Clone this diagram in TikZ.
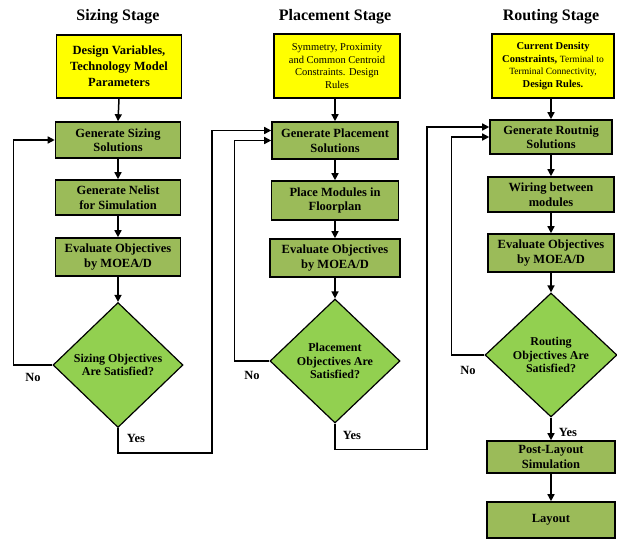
\documentclass[tikz,border=0pt]{standalone}
\usepackage{fontspec}
\setmainfont{Liberation Serif}
\usetikzlibrary{shapes.geometric, arrows.meta}

\definecolor{inyellow}{HTML}{FFFF00}
\definecolor{procgreen}{HTML}{9BBB59}
\definecolor{decgreen}{HTML}{92D050}

\tikzset{
  stagetitle/.style={font=\fontsize{16}{18}\selectfont\bfseries},
  inbox/.style={draw, line width=1.6pt, fill=inyellow, align=center, inner sep=2pt},
  procbox/.style={draw, line width=1.6pt, fill=procgreen, align=center, inner sep=2pt,
    font=\fontsize{12.5}{14.5}\selectfont\bfseries},
  decision/.style={draw, diamond, aspect=1, line width=1.2pt, fill=decgreen, align=center,
    inner sep=0pt, font=\fontsize{12}{13.5}\selectfont\bfseries},
  flow/.style={line width=1.5pt, -{Triangle[length=7pt,width=7pt]}},
  answer/.style={font=\fontsize{12.5}{14}\selectfont\bfseries},
}

\begin{document}
\begin{tikzpicture}[x=1pt, y=-1pt]
\useasboundingbox (0,0) rectangle (617,540);

\node [stagetitle] (t1) at (118,17) {Sizing Stage};
\node [stagetitle] (t2) at (335,17) {Placement Stage};
\node [stagetitle] (t3) at (551,17) {Routing Stage};

% sizing
\node [inbox, minimum width=125pt, minimum height=63pt, font=\fontsize{12.5}{16}\selectfont\bfseries]
  (in1) at (119,66.5) {Design Variables,\\Technology Model\\Parameters};
\node [procbox, minimum width=125pt, minimum height=36pt] (gen1) at (118,140) {Generate Sizing\\Solutions};
\node [procbox, minimum width=125pt, minimum height=35pt] (net1) at (118,197.5) {Generate Nelist\\for Simulation};
\node [procbox, minimum width=125pt, minimum height=38pt] (eval1) at (118,257) {Evaluate Objectives\\by MOEA/D};
\node [decision, minimum width=130pt, minimum height=125pt] (dec1) at (118,365) {Sizing Objectives\\Are Satisfied?};

% placement
\node [inbox, minimum width=126pt, minimum height=64pt, font=\fontsize{10.5}{12.5}\selectfont]
  (in2) at (337,66) {Symmetry, Proximity\\and Common Centroid\\Constraints. Design\\Rules};
\node [procbox, minimum width=126pt, minimum height=37pt] (gen2) at (335,140.5) {Generate Placement\\Solutions};
\node [procbox, minimum width=127pt, minimum height=39pt] (place2) at (335,200.5) {Place Modules in\\Floorplan};
\node [procbox, minimum width=130pt, minimum height=38pt] (eval2) at (335,258) {Evaluate Objectives\\by MOEA/D};
\node [decision, minimum width=130pt, minimum height=124pt] (dec2) at (335,361) {Placement\\Objectives Are\\Satisfied?};

% routing
\node [inbox, minimum width=122pt, minimum height=64pt, font=\fontsize{10.5}{12.5}\selectfont\bfseries]
  (in3) at (553,66) {Current Density\\Constraints, {\fontsize{9.5}{12.5}\selectfont\mdseries Terminal to}\\
  {\fontsize{9.5}{12.5}\selectfont\mdseries Terminal Connectivity,}\\Design Rules.};
\node [procbox, minimum width=122pt, minimum height=34pt] (gen3) at (551,137) {Generate Routnig\\Solutions};
\node [procbox, minimum width=126pt, minimum height=35pt] (wire3) at (551,194.5) {Wiring between\\modules};
\node [procbox, minimum width=126pt, minimum height=38pt] (eval3) at (551,253) {Evaluate Objectives\\by MOEA/D};
\node [decision, minimum width=132pt, minimum height=124pt] (dec3) at (551,355) {Routing\\Objectives Are\\Satisfied?};
\node [procbox, minimum width=128pt, minimum height=32pt] (post3) at (551,457) {Post-Layout\\Simulation};
\node [procbox, minimum width=128pt, minimum height=36pt] (lay3) at (551,520) {Layout};

\node [answer] (no1) at (33,377) {No};
\node [answer] (yes1) at (136,438) {Yes};
\node [answer] (no2) at (252,375) {No};
\node [answer] (yes2) at (352,435) {Yes};
\node [answer] (no3) at (468,370) {No};
\node [answer] (yes3) at (568,432) {Yes};

\draw [flow] (in1.south) -- (gen1.north);
\draw [flow] (gen1) -- (net1);
\draw [flow] (net1) -- (eval1);
\draw [flow] (eval1) -- (dec1);
\draw [flow] (dec1.west) -- ++(-39,0) |- (gen1.west);
\draw [flow] (dec1.south) |- ++(94,25) |- ([yshift=10pt]gen2.west);

\draw [flow] (in2.south -| gen2.north) -- (gen2.north);
\draw [flow] (gen2) -- (place2);
\draw [flow] (place2) -- (eval2);
\draw [flow] (eval2) -- (dec2);
\draw [flow] (dec2.west) -- ++(-35,0) |- (gen2.west);
\draw [flow] (dec2.south) |- ++(92,26) |- ([yshift=10pt]gen3.west);

\draw [flow] (in3.south -| gen3.north) -- (gen3.north);
\draw [flow] (gen3) -- (wire3);
\draw [flow] (wire3) -- (eval3);
\draw [flow] (eval3) -- (dec3);
\draw [flow] (dec3.west) -- ++(-33,0) |- (gen3.west);
\draw [flow] (dec3) -- (post3);
\draw [flow] (post3) -- (lay3);
\end{tikzpicture}
\end{document}
